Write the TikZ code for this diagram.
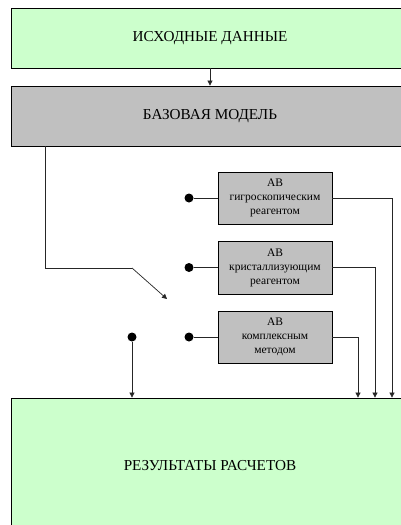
\documentclass[tikz,border=0pt]{standalone}
\usepackage{fontspec}
\setmainfont{Liberation Serif}
\usetikzlibrary{arrows.meta}
\definecolor{lgreen}{HTML}{CCFFCC}
\definecolor{lgray}{HTML}{C0C0C0}
\tikzset{
  bigbox/.style={draw=black, line width=0.8pt, minimum width=398pt, inner sep=0pt, font=\fontsize{15.2}{18}\selectfont},
  avbox/.style={draw=black, line width=0.8pt, fill=lgray, minimum width=114pt, minimum height=52pt, inner sep=0pt, align=center, font=\fontsize{11.5}{14}\selectfont},
  dotnode/.style={circle, fill=black, inner sep=0pt, minimum size=9pt},
  conn/.style={line width=0.7pt, draw=black!85},
  arr/.style={conn, -{Triangle[length=5pt,width=5pt]}}
}
\begin{document}
\begin{tikzpicture}[x=1pt,y=-1pt]
\useasboundingbox (0,0) rectangle (401,525);
\clip (0,0) rectangle (401,525);
\fill[white] (0,0) rectangle (401,525);
% main boxes
\node[bigbox, fill=lgreen, minimum height=60pt] (src) at (210,38) {ИСХОДНЫЕ ДАННЫЕ};
\node[bigbox, fill=lgray, minimum height=60pt] (base) at (210,116) {БАЗОВАЯ МОДЕЛЬ};
\node[bigbox, fill=lgreen, minimum height=136pt] (res) at (210,466) {РЕЗУЛЬТАТЫ РАСЧЕТОВ};
% AV boxes
\node[avbox] (av1) at (275,198) {АВ\\гигроскопическим\\реагентом};
\node[avbox, minimum height=53pt] (av2) at (275,267.5) {АВ\\кристаллизующим\\реагентом};
\node[avbox] (av3) at (275,337) {АВ\\комплексным\\методом};
% dots
\node[dotnode] (d1) at (189,198) {};
\node[dotnode] (d2) at (189,267.5) {};
\node[dotnode] (d3) at (189,337) {};
\node[dotnode] (d0) at (132,337) {};
% switch coordinates
\coordinate (s1) at (45,268);
\coordinate (s2) at (132,268);
\coordinate (s3) at (167,299);
% connectors
\draw[arr] (src.south) -- (base.north);
\draw[conn] (base.south -| s1) -- (s1) -- (s2);
\draw[arr] (s2) -- (s3);
\draw[conn] (d1) -- (av1.west);
\draw[conn] (d2) -- (av2.west);
\draw[conn] (d3) -- (av3.west);
\coordinate (r1) at (392,0);
\coordinate (r2) at (375,0);
\coordinate (r3) at (358,0);
\draw[arr] (av1.east) -- (av1.east -| r1) -- (res.north -| r1);
\draw[arr] (av2.east) -- (av2.east -| r2) -- (res.north -| r2);
\draw[arr] (av3.east) -- (av3.east -| r3) -- (res.north -| r3);
\draw[arr] (d0) -- (res.north -| d0);
\end{tikzpicture}
\end{document}
